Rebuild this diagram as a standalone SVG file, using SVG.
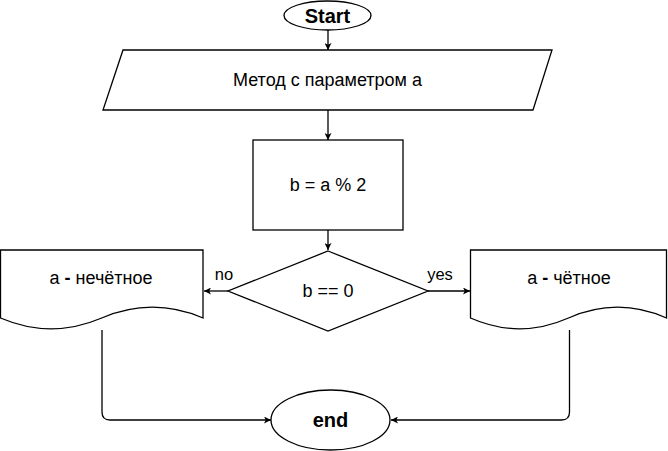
<svg xmlns="http://www.w3.org/2000/svg" width="668" height="451" viewBox="0 0 668 451">
<style>
.s{fill:#fff;stroke:#000;stroke-width:1.3}
.t{font-family:"Liberation Sans",Arial,sans-serif;font-size:18px;fill:#000;text-anchor:middle}
.b{font-weight:bold;font-size:20px}
.l{font-family:"Liberation Sans",Arial,sans-serif;font-size:16.5px;fill:#000;text-anchor:middle}
.c{fill:none;stroke:#000;stroke-width:1.3}
</style>
<defs>
<marker id="a" viewBox="0 0 10 10" refX="10" refY="5" markerWidth="7" markerHeight="7" markerUnits="userSpaceOnUse" orient="auto">
<path d="M0,0 L10,5 L0,10 L2.5,5 Z" fill="#000"/>
</marker>
</defs>
<rect width="668" height="451" fill="#fff"/>
<g id="connectors">
<path class="c" d="M328,30 V50" marker-end="url(#a)"/>
<path class="c" d="M328,110 V140" marker-end="url(#a)"/>
<path class="c" d="M328,230 V250" marker-end="url(#a)"/>
<path class="c" d="M228,291 H204" marker-end="url(#a)"/>
<text class="l" x="224" y="280">no</text>
<path class="c" d="M428,291 H470" marker-end="url(#a)"/>
<text class="l" x="440" y="280">yes</text>
<path class="c" d="M102,330 V412 Q102,420 110,420 H271" marker-end="url(#a)"/>
<path class="c" d="M569.5,330 V412 Q569.5,420 561.5,420 H391" marker-end="url(#a)"/>
</g>
<g id="start">
<ellipse class="s" cx="327.5" cy="15.5" rx="43.5" ry="14.5"/>
<text class="t b" x="327.5" y="22.5">Start</text>
</g>
<g id="input">
<path class="s" d="M123,50 H552 L533,110 H103 Z"/>
<text class="t" x="327.5" y="86">Метод с параметром а</text>
</g>
<g id="calc">
<rect class="s" x="253" y="140" width="150" height="90"/>
<text class="t" x="328" y="191">b = a % 2</text>
</g>
<g id="decision">
<path class="s" d="M328,251 L428,291 L328,331 L228,291 Z"/>
<text class="t" x="328" y="297">b == 0</text>
</g>
<g id="odd">
<path class="s" d="M0.5,250 H203 V318 Q152.4,296.4 101.75,318 Q51.1,339.6 0.5,318 Z"/>
<text class="t" x="101" y="284">а <tspan font-weight="bold">-</tspan> нечётное</text>
</g>
<g id="even">
<path class="s" d="M470.5,250 H666.5 V318 Q617.5,296.4 568.5,318 Q519.5,339.6 470.5,318 Z"/>
<text class="t" x="569" y="284">а <tspan font-weight="bold">-</tspan> чётное</text>
</g>
<g id="end">
<ellipse class="s" cx="330.5" cy="420" rx="59.5" ry="30"/>
<text class="t b" x="330.5" y="427">end</text>
</g>
</svg>
